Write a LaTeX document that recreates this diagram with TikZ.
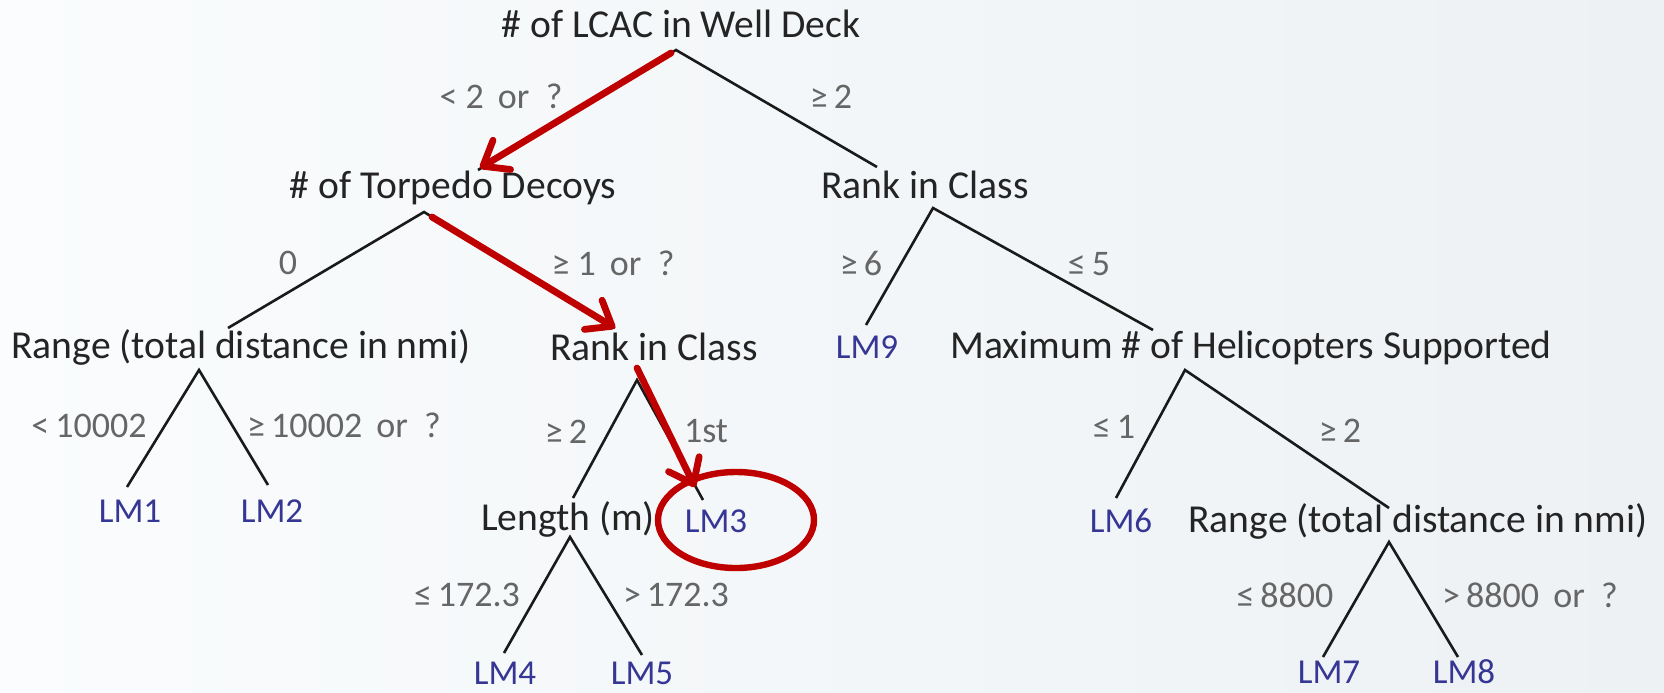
\documentclass[tikz,border=0pt]{standalone}
\usepackage{fontspec}
\setmainfont{Carlito}
\usetikzlibrary{arrows.meta}
\definecolor{bgL}{HTML}{FAFCFD}
\definecolor{bgR}{HTML}{EDF1F4}
\definecolor{nodetext}{HTML}{242424}
\definecolor{edgetext}{HTML}{666666}
\definecolor{leaftext}{HTML}{363694}
\definecolor{pathred}{HTML}{BE0000}
\definecolor{treeline}{HTML}{1A1A1A}
\begin{document}
\begin{tikzpicture}[x=0.5pt,y=-0.5pt,
  splitnode/.style={anchor=base,inner sep=0pt,text=nodetext,font=\fontsize{19.8}{23}\selectfont},
  condlabel/.style={anchor=base,inner sep=0pt,text=edgetext,font=\fontsize{18}{21}\selectfont},
  leafnode/.style={anchor=base,inner sep=0pt,text=leaftext,font=\fontsize{17.5}{21}\selectfont},
  branch/.style={draw=treeline,line width=1.3pt},
  redpath/.style={draw=pathred,line width=3.4pt,line cap=round,
    -{Straight Barb[length=11pt,width=17pt,round]}},
  pick/.style={draw=pathred,line width=3.2pt},
]
% background
\shade[left color=bgL,right color=bgR] (0,0) rectangle (1664,692);
\useasboundingbox (0,0) rectangle (1664,692);

% split nodes
\node[splitnode] (root) at (681,37) {\# of LCAC in Well Deck};
\node[splitnode] (torp) at (453,198) {\# of Torpedo Decoys};
\node[splitnode] (rankR) at (925,198) {Rank in Class};
\node[splitnode] (rangeL) at (241,358) {Range (total distance in nmi)};
\node[splitnode] (rankM) at (654,360) {Rank in Class};
\node[splitnode] (heli) at (1251,358) {Maximum \# of Helicopters Supported};
\node[splitnode] (length) at (568,530) {Length (m)};
\node[splitnode] (rangeR) at (1418,532) {Range (total distance in nmi)};

% leaves
\node[leafnode] (lm1) at (130,522) {LM1};
\node[leafnode] (lm2) at (272,522) {LM2};
\node[leafnode] (lm3) at (716,532) {LM3};
\node[leafnode] (lm4) at (505,684) {LM4};
\node[leafnode] (lm5) at (642,684) {LM5};
\node[leafnode] (lm6) at (1121,532) {LM6};
\node[leafnode] (lm7) at (1329,683) {LM7};
\node[leafnode] (lm8) at (1464,683) {LM8};
\node[leafnode] (lm9) at (867,358) {LM9};

% branch end points
\coordinate (rootA) at (676,50);
\coordinate (torpT) at (478,170);
\coordinate (rankRT) at (877,167);
\coordinate (torpA) at (424,212);
\coordinate (rangeLT) at (228,328);
\coordinate (rankMT) at (615,328);
\coordinate (rankRA) at (933,208);
\coordinate (lm9T) at (866,325);
\coordinate (heliT) at (1153,330);
\coordinate (rangeLA) at (199,370);
\coordinate (lm1T) at (127,487);
\coordinate (lm2T) at (268,485);
\coordinate (rankMA) at (637,380);
\coordinate (lengthT) at (573,498);
\coordinate (lm3T) at (703,500);
\coordinate (lengthA) at (570,537);
\coordinate (lm4T) at (504,653);
\coordinate (lm5T) at (642,655);
\coordinate (heliA) at (1185,370);
\coordinate (lm6T) at (1116,498);
\coordinate (rangeRT) at (1389,508);
\coordinate (rangeRA) at (1389,542);
\coordinate (lm7T) at (1323,657);
\coordinate (lm8T) at (1458,657);

% tree branches
\draw[branch] (torpT) -- (rootA) -- (rankRT);
\draw[branch] (rangeLT) -- (torpA) -- (rankMT);
\draw[branch] (lm9T) -- (rankRA) -- (heliT);
\draw[branch] (lm1T) -- (rangeLA) -- (lm2T);
\draw[branch] (lengthT) -- (rankMA) -- (lm3T);
\draw[branch] (lm4T) -- (lengthA) -- (lm5T);
\draw[branch] (lm6T) -- (heliA) -- (rangeRT);
\draw[branch] (lm7T) -- (rangeRA) -- (lm8T);

% split conditions
\node[condlabel] (c1) at (501,108) {<\ 2\ \,or\ \ ?};
\node[condlabel] (c2) at (831,108) {≥\,2};
\node[condlabel] (c3) at (288,274) {0};
\node[condlabel] (c4) at (613,275) {≥\ 1\ \,or\ \ ?};
\node[condlabel] (c5) at (861,275) {≥\,6};
\node[condlabel] (c6) at (1089,275) {≤\,5};
\node[condlabel] (c7) at (89,437) {<\,10002};
\node[condlabel] (c8) at (344,437) {≥\,10002\ \,or\ \ ?};
\node[condlabel] (c9) at (566,443) {≥\,2};
\node[condlabel] (c10) at (706,442) {1st};
\node[condlabel] (c11) at (1114,438) {≤\,1};
\node[condlabel] (c12) at (1340,442) {≥\,2};
\node[condlabel] (c13) at (467,606) {≤\,172.3};
\node[condlabel] (c14) at (676,606) {>\,172.3};
\node[condlabel] (c15) at (1285,607) {≤\,8800};
\node[condlabel] (c16) at (1530,607) {>\,8800\ \,or\ \ ?};

% highlighted decision path
\coordinate (p1s) at (671,53);
\coordinate (p1e) at (480,168);
\coordinate (p2s) at (432,217);
\coordinate (p2e) at (615,328);
\coordinate (p3s) at (637,368);
\coordinate (p3e) at (695,487);
\draw[redpath] (p1s) -- (p1e);
\draw[redpath] (p2s) -- (p2e);
\draw[redpath] (p3s) -- (p3e);
\draw[pick] (736,520) ellipse [x radius=78, y radius=48];
\end{tikzpicture}
\end{document}
